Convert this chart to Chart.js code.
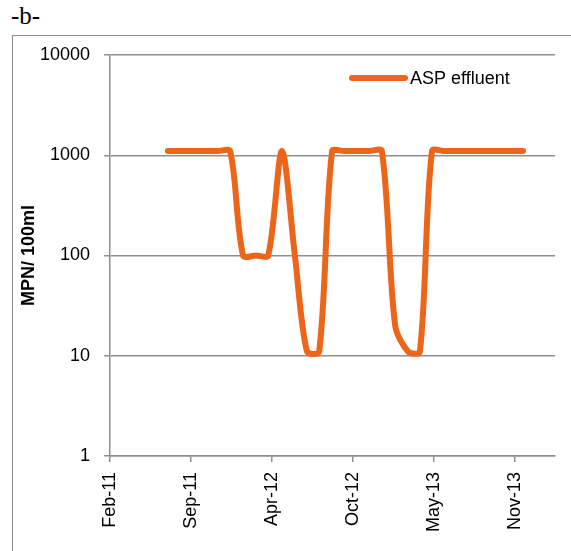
<!DOCTYPE html>
<html>
<head>
<meta charset="utf-8">
<script src="https://cdn.jsdelivr.net/npm/chart.js@4.4.0/dist/chart.umd.min.js"></script>
<style>
  html, body { margin: 0; padding: 0; background: #fff; }
  #wrap { position: relative; width: 571px; height: 551px; overflow: hidden; }
  #frame { position: absolute; left: 12px; top: 35px; width: 700px; height: 700px;
           border-left: 1.5px solid #8a8a8a; border-top: 1.5px solid #8a8a8a; }
  #tag { position: absolute; left: 11px; top: 2px; font: 25px "Liberation Serif", serif; color: #000; }
  canvas { position: absolute; left: 0; top: 0; }
</style>
</head>
<body>
<div id="wrap">
  <div id="frame"></div>
  <div id="tag">-b-</div>
  <canvas id="chart" width="571" height="551"></canvas>
</div>
<script>
// sampling dates and MPN counts
const sampleDates = [
  '2011-07-20', '2011-08-19', '2011-09-18', '2011-10-20', '2011-11-21', '2011-12-21',
  '2012-01-22', '2012-02-23', '2012-03-24', '2012-04-27', '2012-05-29', '2012-06-28',
  '2012-07-28', '2012-08-29', '2012-09-27', '2012-10-27', '2012-11-28', '2012-12-30',
  '2013-02-01', '2013-03-05', '2013-04-03', '2013-05-03', '2013-06-04', '2013-07-06',
  '2013-08-07', '2013-09-09', '2013-10-11', '2013-11-12', '2013-12-14'
];
const aspEffluent = [
  1100, 1100, 1100, 1100, 1100, 1100,
  100, 100, 100, 1100, 100, 11,
  11, 1100, 1100, 1100, 1100, 1100,
  20, 11, 11, 1100, 1100, 1100,
  1100, 1100, 1100, 1100, 1100
];
const seriesName = 'ASP effluent';
const axisStart = '2011-02-27';
const axisEndDays = 1100;
const tickStepDays = 200;
const xTickLabels = ['Feb-11', 'Sep-11', 'Apr-12', 'Oct-12', 'May-13', 'Nov-13'];
const yTickValues = [1, 10, 100, 1000, 10000];
const yTitle = 'MPN/ 100ml';

const ORANGE = '#EC6519';
const GRAY = '#8f8f8f';

function daysFromStart(d) {
  return (Date.parse(d) - Date.parse(axisStart)) / 86400000;
}

const points = sampleDates.map((d, i) => ({ x: daysFromStart(d), y: aspEffluent[i] }));

// legend drawn inside the plot, top right, like the Excel original
const insideLegend = {
  id: 'insideLegend',
  afterDraw(chart) {
    const { ctx, chartArea } = chart;
    const y = chartArea.top + 23;
    const x0 = chartArea.right - 203;
    ctx.save();
    ctx.strokeStyle = ORANGE;
    ctx.lineWidth = 6;
    ctx.lineCap = 'round';
    ctx.beginPath();
    ctx.moveTo(x0, y);
    ctx.lineTo(x0 + 53, y);
    ctx.stroke();
    ctx.fillStyle = '#000';
    ctx.font = '18px "Liberation Sans", Arial, sans-serif';
    ctx.textBaseline = 'middle';
    ctx.fillText(chart.data.datasets[0].label, x0 + 58, y + 1);
    ctx.restore();
  }
};

new Chart(document.getElementById('chart'), {
  type: 'line',
  data: {
    datasets: [{
      label: seriesName,
      data: points,
      borderColor: ORANGE,
      backgroundColor: ORANGE,
      borderWidth: 6,
      pointRadius: 0,
      tension: 0.3,
      borderCapStyle: 'round',
      borderJoinStyle: 'round',
      fill: false
    }]
  },
  options: {
    responsive: false,
    animation: false,
    layout: { padding: { left: 0, top: 55, right: 16, bottom: 0 } },
    plugins: {
      legend: { display: false },
      tooltip: { enabled: false }
    },
    scales: {
      x: {
        type: 'linear',
        min: 0,
        max: axisEndDays,
        afterBuildTicks(scale) {
          scale.ticks = xTickLabels.map((_, i) => ({ value: i * tickStepDays }));
        },
        afterFit(scale) { scale.height = 95; },
        ticks: {
          autoSkip: false,
          minRotation: 90,
          maxRotation: 90,
          padding: 10,
          color: '#000',
          font: { family: '"Liberation Sans", Arial, sans-serif', size: 18 },
          callback: (v, i) => xTickLabels[i]
        },
        grid: { drawOnChartArea: false, drawTicks: true, tickLength: 6, color: GRAY, lineWidth: 1.5 },
        border: { display: true, color: GRAY, width: 1.5 }
      },
      y: {
        type: 'logarithmic',
        min: 1,
        max: 10000,
        afterBuildTicks(scale) {
          scale.ticks = yTickValues.map(v => ({ value: v }));
        },
        afterFit(scale) { scale.width = 110; },
        ticks: {
          padding: 14,
          color: '#000',
          font: { family: '"Liberation Sans", Arial, sans-serif', size: 18 },
          callback: v => String(v)
        },
        grid: { color: GRAY, lineWidth: 1.5, tickLength: 6 },
        border: { display: true, color: GRAY, width: 1.5 },
        title: {
          display: true,
          text: yTitle,
          color: '#000',
          font: { family: '"Liberation Sans", Arial, sans-serif', size: 18, weight: 'bold' },
          padding: { top: 18, bottom: 0 }
        }
      }
    }
  },
  plugins: [insideLegend]
});
</script>
</body>
</html>
